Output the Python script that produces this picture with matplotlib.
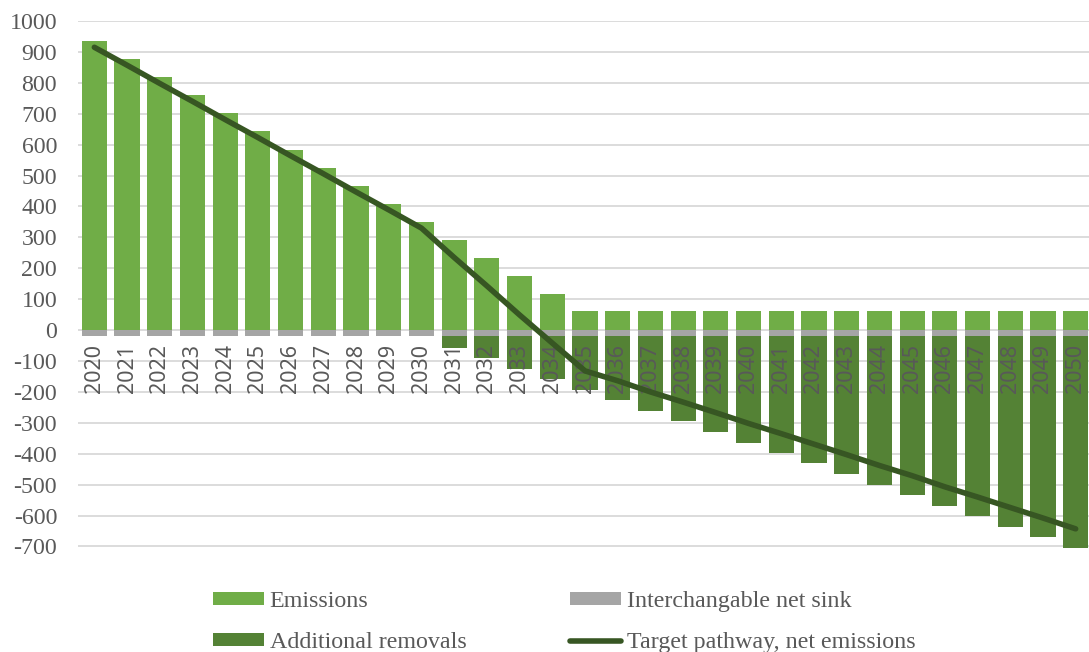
import matplotlib.pyplot as plt
import numpy as np

plt.rcParams['axes.unicode_minus'] = False

years = [str(y) for y in range(2020, 2051)]

emissions = [935, 877, 818, 760, 701, 643, 584, 526, 467, 409, 350,
             292, 233, 175, 117, 62, 62, 62, 62, 62, 62, 62, 62, 62,
             62, 62, 62, 62, 62, 62, 62]
net_sink = [-20] * 31
removals = [0, 0, 0, 0, 0, 0, 0, 0, 0, 0, 0,
            -37, -70, -106, -139, -174, -206, -242, -275, -309, -344,
            -377, -411, -445, -480, -513, -549, -582, -616, -650, -685]
target = [915, 857, 798, 740, 681, 623, 564, 506, 447, 389, 330,
          235, 143, 49, -42, -132, -164, -200, -233, -267, -302,
          -335, -369, -403, -438, -471, -507, -540, -574, -608, -643]

c_em = '#70ad47'
c_sink = '#a5a5a5'
c_rem = '#548235'
c_line = '#375623'
txt = '#595959'

fig = plt.figure(figsize=(10.89, 6.52), dpi=100)
ax = fig.add_axes([78 / 1089, 1 - 548 / 652, 1014 / 1089, (548 - 21) / 652])

x = np.arange(len(years))
w = 0.77
ax.bar(x, emissions, w, color=c_em, zorder=1, label='Emissions')
ax.bar(x, net_sink, w, color=c_sink, zorder=1, label='Interchangable net sink')
ax.bar(x, removals, w, bottom=net_sink, color=c_rem, zorder=1,
       label='Additional removals')
ax.plot(x, target, color=c_line, lw=4.0, solid_capstyle='round', zorder=3,
        label='Target pathway, net emissions')

# gridlines drawn by hand so they sit behind the bars
yt = np.arange(-700, 1001, 100)
for v in yt:
    ax.axhline(v, color='#d9d9d9', lw=1.3, zorder=0)

ax.set_xlim(-0.5, len(years) - 0.5)
ax.set_ylim(-705, 1000)
ax.set_yticks(yt)
ax.set_yticklabels([str(v) for v in yt], family='Liberation Serif',
                   fontsize=17.2, color=txt)
ax.tick_params(axis='y', length=0, pad=15)

ax.spines['bottom'].set_position(('data', 0))
for s in ax.spines.values():
    s.set_visible(False)
ax.set_xticks(x)
ax.set_xticklabels(years, rotation=90, family='Noto Sans', fontsize=15.5,
                   color=txt, va='top', ha='center')
ax.tick_params(axis='x', length=0, pad=10)

h, l = ax.get_legend_handles_labels()
order = [1, 3, 2, 0]
leg = fig.legend([h[i] for i in order], [l[i] for i in order],
                 loc='upper center', bbox_to_anchor=(0.518, 1 - 569 / 652),
                 ncol=2, frameon=False, prop={'family': 'Liberation Serif', 'size': 17.3},
                 handlelength=2.12, handleheight=0.46, handletextpad=0.25,
                 columnspacing=4.3, labelspacing=0.86, labelcolor=txt)

fig.savefig('out.png', dpi=100)
